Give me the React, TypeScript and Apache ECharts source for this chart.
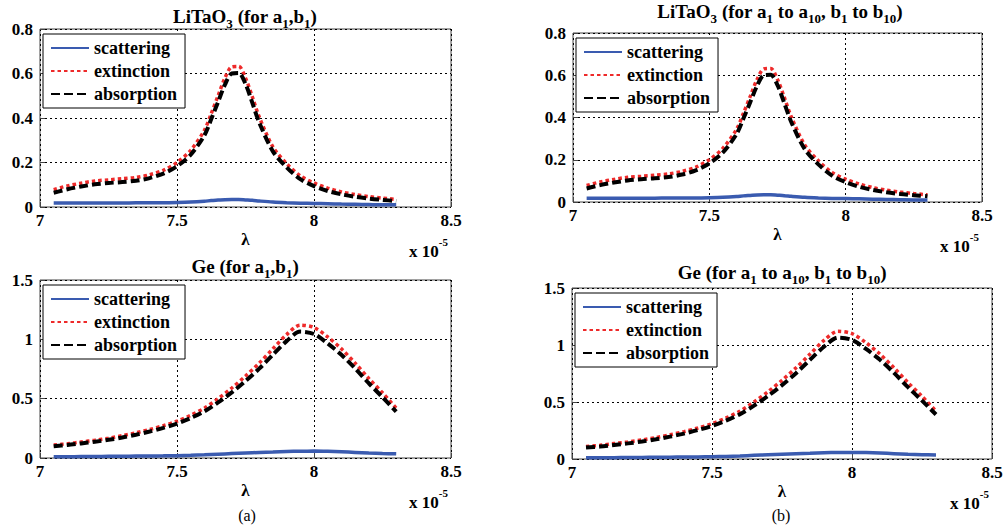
import React, { useEffect, useRef } from "react";
import * as echarts from "echarts";

// wavelength (x 1e-5)
const liX = [7.05, 7.1, 7.15, 7.2, 7.25, 7.3, 7.35, 7.4, 7.45, 7.5, 7.55, 7.6, 7.625, 7.65, 7.675, 7.7, 7.725, 7.75, 7.775, 7.8, 7.85, 7.9, 7.95, 8.0, 8.05, 8.1, 8.15, 8.2, 8.25, 8.3];
const liScattering = [0.018, 0.018, 0.018, 0.018, 0.018, 0.018, 0.019, 0.019, 0.019, 0.02, 0.022, 0.026, 0.029, 0.031, 0.033, 0.034, 0.034, 0.032, 0.03, 0.027, 0.022, 0.019, 0.017, 0.016, 0.015, 0.013, 0.012, 0.011, 0.01, 0.01];
const liExtinction = [0.078, 0.095, 0.107, 0.117, 0.122, 0.127, 0.133, 0.145, 0.165, 0.2, 0.255, 0.345, 0.42, 0.5, 0.58, 0.63, 0.632, 0.58, 0.495, 0.405, 0.27, 0.195, 0.14, 0.108, 0.085, 0.068, 0.056, 0.047, 0.04, 0.034];
const liAbsorption = [0.064, 0.08, 0.092, 0.102, 0.108, 0.112, 0.118, 0.13, 0.15, 0.183, 0.235, 0.322, 0.395, 0.472, 0.55, 0.6, 0.602, 0.553, 0.468, 0.38, 0.25, 0.178, 0.125, 0.094, 0.072, 0.057, 0.046, 0.038, 0.032, 0.027];

const geX = [7.05, 7.1, 7.15, 7.2, 7.25, 7.3, 7.35, 7.4, 7.45, 7.5, 7.55, 7.6, 7.65, 7.7, 7.75, 7.8, 7.85, 7.9, 7.95, 8.0, 8.05, 8.1, 8.15, 8.2, 8.25, 8.3];
const geScattering = [0.01, 0.011, 0.012, 0.013, 0.014, 0.015, 0.016, 0.017, 0.018, 0.02, 0.023, 0.027, 0.032, 0.037, 0.042, 0.047, 0.051, 0.055, 0.057, 0.058, 0.056, 0.052, 0.047, 0.042, 0.038, 0.035];
const geExtinction = [0.11, 0.12, 0.135, 0.15, 0.167, 0.188, 0.212, 0.24, 0.272, 0.31, 0.36, 0.42, 0.5, 0.59, 0.69, 0.8, 0.92, 1.04, 1.12, 1.1, 1.02, 0.92, 0.8, 0.67, 0.55, 0.42];
const geAbsorption = [0.1, 0.109, 0.123, 0.137, 0.153, 0.173, 0.196, 0.223, 0.254, 0.29, 0.337, 0.393, 0.468, 0.553, 0.648, 0.753, 0.87, 0.985, 1.065, 1.045, 0.965, 0.87, 0.755, 0.63, 0.512, 0.39];

const seriesNames = ["scattering", "extinction", "absorption"];
const xTicks = { min: 7, max: 8.5, interval: 0.5 };
const liY = { min: 0, max: 0.8, interval: 0.2 };
const geY = { min: 0, max: 1.5, interval: 0.5 };

const FONT = "Liberation Serif";

const grids = [
  { left: 40, top: 29, width: 411, height: 178 },
  { left: 573, top: 33, width: 409, height: 169 },
  { left: 40, top: 280, width: 411, height: 178 },
  { left: 572, top: 288, width: 420, height: 171 },
];

const panels = [
  { x: liX, s: liScattering, e: liExtinction, a: liAbsorption, y: liY },
  { x: liX, s: liScattering, e: liExtinction, a: liAbsorption, y: liY },
  { x: geX, s: geScattering, e: geExtinction, a: geAbsorption, y: geY },
  { x: geX, s: geScattering, e: geExtinction, a: geAbsorption, y: geY },
];

const titleTexts = [
  "{b|LiTaO}{s|3}{b| (for a}{s|1}{b|,b}{s|1}{b|)}",
  "{b|LiTaO}{s|3}{b| (for a}{s|1}{b| to a}{s|10}{b|, b}{s|1}{b| to b}{s|10}{b|)}",
  "{b|Ge (for a}{s|1}{b|,b}{s|1}{b|)}",
  "{b|Ge (for a}{s|1}{b| to a}{s|10}{b|, b}{s|1}{b| to b}{s|10}{b|)}",
];
const titlePos = [
  [245, 16],
  [780, 11],
  [245, 266],
  [782, 272],
];

const zip = (xs: number[], ys: number[]) => xs.map((x, i) => [x, ys[i]]);

export default function App() {
  const ref = useRef<HTMLDivElement>(null);
  useEffect(() => {
    if (!ref.current) return;
    const chart = echarts.init(ref.current, undefined, { renderer: "svg" });

    const titleRich = {
      b: { fontFamily: FONT, fontWeight: "bold", fontSize: 19, lineHeight: 27, color: "#000", verticalAlign: "middle" },
      s: { fontFamily: FONT, fontWeight: "bold", fontSize: 13, lineHeight: 13, color: "#000", verticalAlign: "bottom" },
    };
    const expRich = {
      b: { fontFamily: FONT, fontWeight: "bold", fontSize: 17, lineHeight: 24, color: "#000", verticalAlign: "bottom" },
      p: { fontFamily: FONT, fontWeight: "bold", fontSize: 11, lineHeight: 12, color: "#000", verticalAlign: "top" },
    };

    const graphics: any[] = [];
    grids.forEach((g, i) => {
      graphics.push({
        type: "text",
        x: titlePos[i][0],
        y: titlePos[i][1],
        style: { text: titleTexts[i], rich: titleRich, align: "center", verticalAlign: "middle" },
      });
      graphics.push({
        type: "text",
        x: g.left + g.width - 3,
        y: g.top + g.height + 41,
        style: { text: "{b|x 10}{p|-5}", rich: expRich, align: "right", verticalAlign: "middle" },
      });
    });
    graphics.push({
      type: "text", x: 247, y: 515,
      style: { text: "(a)", fontFamily: FONT, fontSize: 16, fill: "#000", align: "center", verticalAlign: "middle" },
    });
    graphics.push({
      type: "text", x: 781, y: 515,
      style: { text: "(b)", fontFamily: FONT, fontSize: 16, fill: "#000", align: "center", verticalAlign: "middle" },
    });

    const labelStyle = { fontFamily: FONT, fontWeight: "bold", fontSize: 17, color: "#000" };

    const option: any = {
      animation: false,
      backgroundColor: "#fff",
      textStyle: { fontFamily: FONT },
      grid: grids.map((g) => ({ ...g, show: true, borderColor: "#444", borderWidth: 1, backgroundColor: "#fff" })),
      xAxis: grids.map((_, i) => ({
        type: "value",
        gridIndex: i,
        min: xTicks.min,
        max: xTicks.max,
        interval: xTicks.interval,
        name: "λ",
        nameLocation: "middle",
        nameGap: 24,
        nameTextStyle: { fontFamily: FONT, fontWeight: "bold", fontSize: 17, color: "#000" },
        axisLine: { show: false },
        axisTick: { show: true, inside: true, length: 5, lineStyle: { color: "#444" } },
        axisLabel: { ...labelStyle, margin: 5 },
        splitLine: { show: true, lineStyle: { color: "#000", type: [2, 3], width: 1 } },
      })),
      yAxis: grids.map((_, i) => ({
        type: "value",
        gridIndex: i,
        min: panels[i].y.min,
        max: panels[i].y.max,
        interval: panels[i].y.interval,
        axisLine: { show: false },
        axisTick: { show: true, inside: true, length: 5, lineStyle: { color: "#444" } },
        axisLabel: { ...labelStyle, margin: 7 },
        splitLine: { show: true, lineStyle: { color: "#000", type: [2, 3], width: 1 } },
      })),
      legend: grids.map((g) => ({
        show: true,
        orient: "vertical",
        left: g.left + 3,
        top: g.top + 5,
        data: seriesNames,
        itemWidth: 38,
        itemHeight: 14,
        itemGap: 5,
        padding: [5, 8, 5, 7],
        borderColor: "#000",
        borderWidth: 1,
        borderRadius: 0,
        backgroundColor: "#fff",
        selectedMode: false,
        itemStyle: { opacity: 0 },
        textStyle: { fontFamily: FONT, fontWeight: "bold", fontSize: 18, color: "#000" },
      })),
      series: panels.flatMap((p, i) => [
        {
          name: seriesNames[0],
          type: "line",
          xAxisIndex: i,
          yAxisIndex: i,
          data: zip(p.x, p.s),
          symbol: "none",
          smooth: 0.3,
          lineStyle: { color: "#3a5bb0", width: 3.5 },
          itemStyle: { color: "#3a5bb0" },
          z: 2,
        },
        {
          name: seriesNames[1],
          type: "line",
          xAxisIndex: i,
          yAxisIndex: i,
          data: zip(p.x, p.e),
          symbol: "none",
          smooth: 0.3,
          lineStyle: { color: "#ee2a2a", width: 3.5, type: [3.5, 3] },
          itemStyle: { color: "#ee2a2a" },
          z: 3,
        },
        {
          name: seriesNames[2],
          type: "line",
          xAxisIndex: i,
          yAxisIndex: i,
          data: zip(p.x, p.a),
          symbol: "none",
          smooth: 0.3,
          lineStyle: { color: "#000", width: 4, type: [9, 4] },
          itemStyle: { color: "#000" },
          z: 4,
        },
      ]),
      graphic: graphics,
    };
    chart.setOption(option);
    return () => chart.dispose();
  }, []);
  return <div ref={ref} style={{ position: "fixed", left: 0, top: 0, width: 1007, height: 532 }} />;
}
